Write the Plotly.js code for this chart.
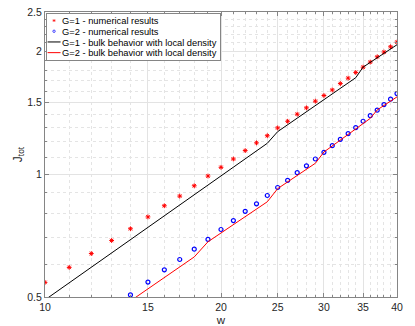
<!DOCTYPE html>
<html>
<head>
<meta charset="utf-8">
<script src="https://cdn.plot.ly/plotly-3.0.1.min.js"></script>
<style>
  html, body { margin: 0; padding: 0; background: #fff; }
  #chart { width: 415px; height: 326px; }
</style>
</head>
<body>
<div id="chart"></div>
<script>
// Numerical results
var wG1 = [10,11,12,13,14,15,16,17,18,19,20,21,22,23,24,25,26,27,28,29,30,31,32,33,34,35,36,37,38,39,40];
var jG1 = [0.543,0.591,0.639,0.688,0.735,0.786,0.837,0.884,0.937,0.990,1.040,1.090,1.143,1.194,1.243,1.299,1.349,1.404,1.455,1.511,1.560,1.610,1.669,1.721,1.777,1.831,1.884,1.941,1.994,2.054,2.109];

var wG2 = [14,15,16,17,18,19,20,21,22,23,24,25,26,27,28,29,30,31,32,33,34,35,36,37,38,39,40];
var jG2 = [0.506,0.544,0.583,0.618,0.655,0.692,0.732,0.770,0.811,0.846,0.887,0.928,0.966,1.009,1.049,1.090,1.132,1.175,1.218,1.258,1.301,1.349,1.392,1.436,1.482,1.528,1.577];

// Bulk behaviour with local density (vertices of the piecewise curves)
var wBulk1 = [10,24,25,34,35,40];
var jBulk1 = [0.492,1.191,1.272,1.725,1.831,2.078];

var wBulk2 = [14,18,19,24,25,29,30,36,37,40];
var jBulk2 = [0.489,0.627,0.683,0.856,0.922,1.064,1.134,1.371,1.438,1.548];

// Ticks
var xTicks = [10,15,20,25,30,35,40];
var xMinor = [11,12,13,14,16,17,18,19,21,22,23,24,26,27,28,29,31,32,33,34,36,37,38,39];
var yTicks = [0.5,1,1.5,2,2.5];
var yTickText = ['0.5','1','1.5','2','2.5'];
var yMinor = [0.6,0.7,0.8,0.9,1.1,1.2,1.3,1.4,1.6,1.7,1.8,1.9,2.1,2.2,2.3,2.4];

var seriesNames = [
  'G=1 - numerical results',
  'G=2 - numerical results',
  'G=1 - bulk behavior with local density',
  'G=2 - bulk behavior with local density'
];

var FONT = 'Liberation Sans, Arial, Helvetica, sans-serif';

var traces = [
  {x: wG1, y: jG1, name: seriesNames[0], mode: 'markers', type: 'scatter',
   marker: {symbol: 'asterisk-open', size: 4, color: '#ff0000', line: {color: '#ff0000', width: 1}}},
  {x: wG2, y: jG2, name: seriesNames[1], mode: 'markers', type: 'scatter',
   marker: {symbol: 'circle-open', size: 4, color: '#0000ff', line: {color: '#0000ff', width: 1.2}}},
  {x: wBulk1, y: jBulk1, name: seriesNames[2], mode: 'lines', type: 'scatter',
   line: {color: '#000000', width: 1}},
  {x: wBulk2, y: jBulk2, name: seriesNames[3], mode: 'lines', type: 'scatter',
   line: {color: '#ff0000', width: 1}}
];

var axisCommon = {
  showline: true, linecolor: '#858585', linewidth: 1, mirror: 'allticks',
  ticks: 'inside', ticklen: 4, tickcolor: '#858585', tickwidth: 1,
  showgrid: true, gridcolor: '#e3e3e3', gridwidth: 1,
  zeroline: false,
  tickfont: {family: FONT, size: 10.5, color: '#262626'}
};

var layout = {
  width: 415, height: 326,
  margin: {l: 45, r: 18, t: 12, b: 29, pad: 0},
  paper_bgcolor: '#ffffff', plot_bgcolor: '#ffffff',
  showlegend: true,
  font: {family: FONT, size: 10.5, color: '#262626'},
  xaxis: Object.assign({}, axisCommon, {
    type: 'log', range: [Math.log10(10), Math.log10(40)],
    tickmode: 'array', tickvals: xTicks, ticktext: xTicks.map(String),
    minor: {tickmode: 'array', tickvals: xMinor, ticks: 'inside', ticklen: 2,
            tickcolor: '#858585', showgrid: true, gridcolor: '#e4e4e4', griddash: 'dot', gridwidth: 1},
    title: {text: 'w', standoff: 4, font: {family: FONT, size: 11.5, color: '#262626'}},
    automargin: false
  }),
  yaxis: Object.assign({}, axisCommon, {
    type: 'log', range: [Math.log10(0.5), Math.log10(2.5)],
    tickmode: 'array', tickvals: yTicks, ticktext: yTickText,
    minor: {tickmode: 'array', tickvals: yMinor, ticks: 'inside', ticklen: 2,
            tickcolor: '#858585', showgrid: true, gridcolor: '#e4e4e4', griddash: 'dot', gridwidth: 1},
    title: {text: 'J<sub>tot</sub>', standoff: 2, font: {family: FONT, size: 12, color: '#262626'}},
    automargin: false
  }),
  legend: {
    x: 0.003, y: 0.997, xanchor: 'left', yanchor: 'top',
    bgcolor: '#ffffff', bordercolor: '#858585', borderwidth: 1,
    font: {family: FONT, size: 9.3, color: '#000000'},
    itemwidth: 30, tracegroupgap: 0
  }
};

// Tighten the legend to the compact MATLAB-like spacing
function compactLegend() {
  var leg = document.querySelector('#chart .legend');
  if (!leg) return;
  var items = leg.querySelectorAll('.traces');
  var top = 7.7, spacing = 10.7, textX = 16;
  var maxRight = 0;
  items.forEach(function (it, i) {
    it.setAttribute('transform', 'translate(0,' + (top + i * spacing) + ')');
    var txt = it.querySelector('text.legendtext');
    if (txt) {
      txt.setAttribute('x', textX);
      try {
        var bb = txt.getBBox();
        maxRight = Math.max(maxRight, textX + bb.width);
      } catch (e) {}
    }
    it.querySelectorAll('.legendlines path').forEach(function (p) {
      p.setAttribute('d', 'M1.5,0h13');
    });
    it.querySelectorAll('.legendpoints path').forEach(function (p) {
      p.setAttribute('transform', 'translate(8,0) scale(0.6)');
    });
  });
  var w = Math.ceil(maxRight + 3);
  var h = Math.ceil(top + (items.length - 1) * spacing + 6.5);
  leg.querySelectorAll('rect.bg').forEach(function (r) {
    r.setAttribute('width', w);
    r.setAttribute('height', h);
  });
}

Plotly.newPlot('chart', traces, layout, {staticPlot: true, displayModeBar: false})
  .then(compactLegend);
</script>
</body>
</html>
